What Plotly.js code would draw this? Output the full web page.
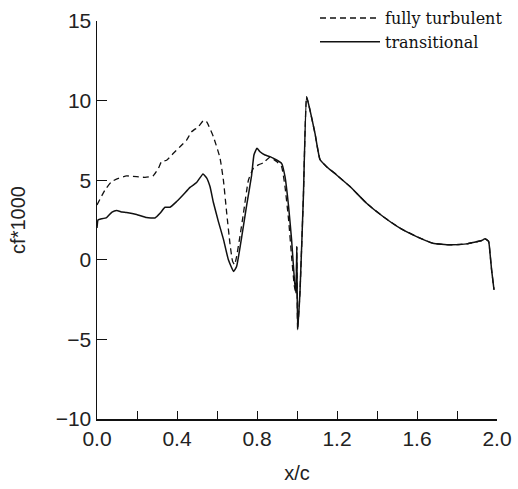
<!DOCTYPE html>
<html>
<head>
<meta charset="utf-8">
<script src="https://cdn.plot.ly/plotly-3.0.1.min.js"></script>
<style>html,body{margin:0;padding:0;background:#fff;}#chart{width:518px;height:489px;}</style>
</head>
<body>
<div id="chart"></div>
<script>
// x/c positions and cf*1000 values
var xTransitional = [0, 0.005, 0.015, 0.048, 0.075, 0.098, 0.125, 0.148, 0.198, 0.248, 0.29, 0.315, 0.34, 0.365, 0.398, 0.43, 0.465, 0.498, 0.53, 0.548, 0.565, 0.582, 0.607, 0.632, 0.657, 0.683, 0.698, 0.723, 0.748, 0.773, 0.785, 0.8, 0.815, 0.84, 0.865, 0.898, 0.923, 0.94, 0.958, 0.973, 0.987, 0.995, 0.999, 1.003, 1.015, 1.032, 1.048, 1.065, 1.09, 1.115, 1.148, 1.198, 1.265, 1.348, 1.43, 1.515, 1.598, 1.68, 1.765, 1.848, 1.923, 1.94, 1.958, 1.965, 1.973, 1.985];
var cfTransitional = [2.0, 2.5, 2.55, 2.65, 3.0, 3.1, 3.0, 2.97, 2.85, 2.65, 2.63, 2.92, 3.3, 3.3, 3.66, 4.07, 4.55, 4.85, 5.39, 5.15, 4.6, 3.6, 2.4, 1.3, 0.0, -0.73, -0.42, 1.4, 3.4, 5.3, 6.6, 7.0, 6.79, 6.58, 6.48, 6.27, 6.06, 5.22, 3.34, 1.25, -1.25, -2.09, 0.83, -4.39, -2.0, 4.0, 10.24, 9.4, 7.94, 6.3, 5.85, 5.33, 4.6, 3.55, 2.72, 1.99, 1.46, 1.04, 0.94, 1.0, 1.21, 1.32, 1.15, 0.42, -0.63, -1.88];

var xTurbulent = [0, 0.04, 0.073, 0.107, 0.148, 0.198, 0.24, 0.28, 0.307, 0.323, 0.348, 0.382, 0.415, 0.448, 0.473, 0.507, 0.532, 0.548, 0.582, 0.615, 0.632, 0.648, 0.665, 0.678, 0.688, 0.698, 0.715, 0.732, 0.757, 0.782, 0.807, 0.832, 0.865, 0.898, 0.923, 0.94, 0.958, 0.973, 0.987, 0.995, 0.999, 1.003, 1.015, 1.032, 1.048, 1.065, 1.09, 1.115, 1.148, 1.198, 1.265, 1.348, 1.43, 1.515, 1.598, 1.68, 1.765, 1.848, 1.923, 1.94, 1.958, 1.965, 1.973, 1.985];
var cfTurbulent = [3.45, 4.39, 4.91, 5.12, 5.27, 5.22, 5.18, 5.27, 5.75, 6.17, 6.25, 6.69, 7.1, 7.52, 8.04, 8.36, 8.75, 8.67, 7.73, 6.4, 5.0, 3.0, 1.0, -0.1, -0.3, 0.2, 1.5, 2.9, 5.0, 5.75, 5.96, 6.1, 6.45, 6.17, 5.85, 4.6, 2.51, 0.2, -1.67, -2.07, 0.83, -4.39, -2.0, 4.0, 10.24, 9.4, 7.94, 6.3, 5.85, 5.33, 4.6, 3.55, 2.72, 1.99, 1.46, 1.04, 0.94, 1.0, 1.21, 1.32, 1.15, 0.42, -0.63, -1.88];

var seriesNames = ["fully turbulent", "transitional"];
var xTickVals = [0.0, 0.4, 0.8, 1.2, 1.6, 2.0];
var xTickText = ["0.0", "0.4", "0.8", "1.2", "1.6", "2.0"];
var yTickVals = [-10, -5, 0, 5, 10, 15];

var traces = [
  {x: xTurbulent, y: cfTurbulent, name: seriesNames[0], mode: "lines",
   line: {color: "#111", width: 1.3, dash: "6px,4px", shape: "spline", smoothing: 0.4}},
  {x: xTransitional, y: cfTransitional, name: seriesNames[1], mode: "lines",
   line: {color: "#111", width: 1.5, shape: "spline", smoothing: 0.4}}
];

var tickFont = {family: "Liberation Sans, Arial, sans-serif", size: 21, color: "#222"};
var titleFont = {family: "Liberation Sans, Arial, sans-serif", size: 20, color: "#222"};

var layout = {
  width: 518, height: 489,
  margin: {l: 97, r: 21, t: 21, b: 70, autoexpand: false},
  paper_bgcolor: "#fff", plot_bgcolor: "#fff",
  showlegend: true,
  legend: {x: 0.545, y: 1.05, xanchor: "left", yanchor: "top",
           font: {family: "DejaVu Serif, Liberation Serif, serif", size: 16, color: "#111"},
           bgcolor: "rgba(0,0,0,0)", tracegroupgap: 0, itemwidth: 60},
  xaxis: {range: [0, 2], tickvals: xTickVals, ticktext: xTickText,
          ticks: "inside", ticklen: 8, tickwidth: 1, tickcolor: "#111",
          minor: {dtick: 0.2, tick0: 0, ticks: "inside", ticklen: 8, tickcolor: "#111", showgrid: false},
          showline: true, linecolor: "#111", linewidth: 1.5, mirror: false,
          showgrid: false, zeroline: false, tickfont: tickFont, automargin: false,
          title: {text: "x/c", font: titleFont, standoff: 17}},
  yaxis: {range: [-10, 15], tickvals: yTickVals,
          ticks: "inside", ticklen: 10, tickwidth: 1, tickcolor: "#111",
          showline: true, linecolor: "#111", linewidth: 1.5, mirror: false,
          showgrid: false, zeroline: false, tickfont: tickFont, automargin: false,
          title: {text: "cf*1000", font: titleFont, standoff: 24}}
};

Plotly.newPlot("chart", traces, layout, {displayModeBar: false, staticPlot: true});
</script>
</body>
</html>
